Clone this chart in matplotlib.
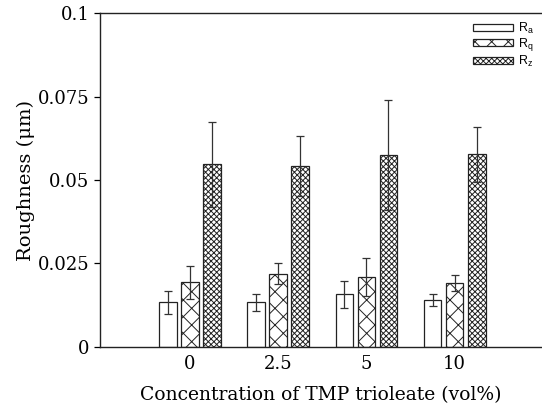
import numpy as np
import matplotlib
matplotlib.use("Agg")
import matplotlib.pyplot as plt

# data
concentrations = ["0", "2.5", "5", "10"]
ra = [0.0134, 0.0134, 0.0158, 0.0140]
ra_err = [0.0035, 0.0026, 0.0040, 0.0018]
rq = [0.0194, 0.0219, 0.0209, 0.0191]
rq_err = [0.0049, 0.0032, 0.0057, 0.0024]
rz = [0.0547, 0.0542, 0.0574, 0.0577]
rz_err = [0.0127, 0.0090, 0.0165, 0.0082]
yticks = [0, 0.025, 0.05, 0.075, 0.1]
ytick_labels = ["0", "0.025", "0.05", "0.075", "0.1"]

plt.rcParams["font.family"] = ["DejaVu Serif"]
plt.rcParams["hatch.linewidth"] = 0.7

fig = plt.figure(figsize=(5.42, 4.12), dpi=100)
ax = fig.add_axes([0.1845, 0.158, 0.8155, 0.81])

x = np.arange(len(concentrations))
w = 0.2
step = 0.25
err_kw = dict(ecolor="#333333", elinewidth=0.9, capsize=3, capthick=0.9)

ax.bar(x - step, ra, w, yerr=ra_err, color="white", edgecolor="#222222",
       linewidth=0.9, error_kw=err_kw, label="R$_\\mathregular{a}$")
ax.bar(x, rq, w, yerr=rq_err, color="white", edgecolor="#222222",
       linewidth=0.9, hatch="xx", error_kw=err_kw, label="R$_\\mathregular{q}$")
ax.bar(x + step, rz, w, yerr=rz_err, color="white", edgecolor="#222222",
       linewidth=0.9, hatch="xxxxxx", error_kw=err_kw, label="R$_\\mathregular{z}$")

ax.set_xlim(-1.02, 3.99)
ax.set_ylim(0, 0.1)
ax.set_xticks(x)
ax.set_xticklabels(concentrations)
ax.set_yticks(yticks)
ax.set_yticklabels(ytick_labels)
ax.tick_params(axis="x", length=0, labelsize=13, pad=6)
ax.tick_params(axis="y", direction="out", length=4, width=0.9, labelsize=13)
for side in ["left", "top", "bottom"]:
    ax.spines[side].set_linewidth(1.0)
    ax.spines[side].set_color("#222222")
ax.spines["right"].set_visible(False)

ax.set_xlabel("Concentration of TMP trioleate (vol%)", fontsize=13.5, labelpad=9)
ax.set_ylabel("Roughness (\u03bcm)", fontsize=14, labelpad=2)

leg = ax.legend(loc="upper right", frameon=False, handlelength=3.2,
                handleheight=0.5, labelspacing=0.05, handletextpad=0.4,
                borderaxespad=0.2,
                prop={"family": ["Liberation Sans", "DejaVu Sans"], "size": 9})

fig.savefig("out.png", dpi=100)
